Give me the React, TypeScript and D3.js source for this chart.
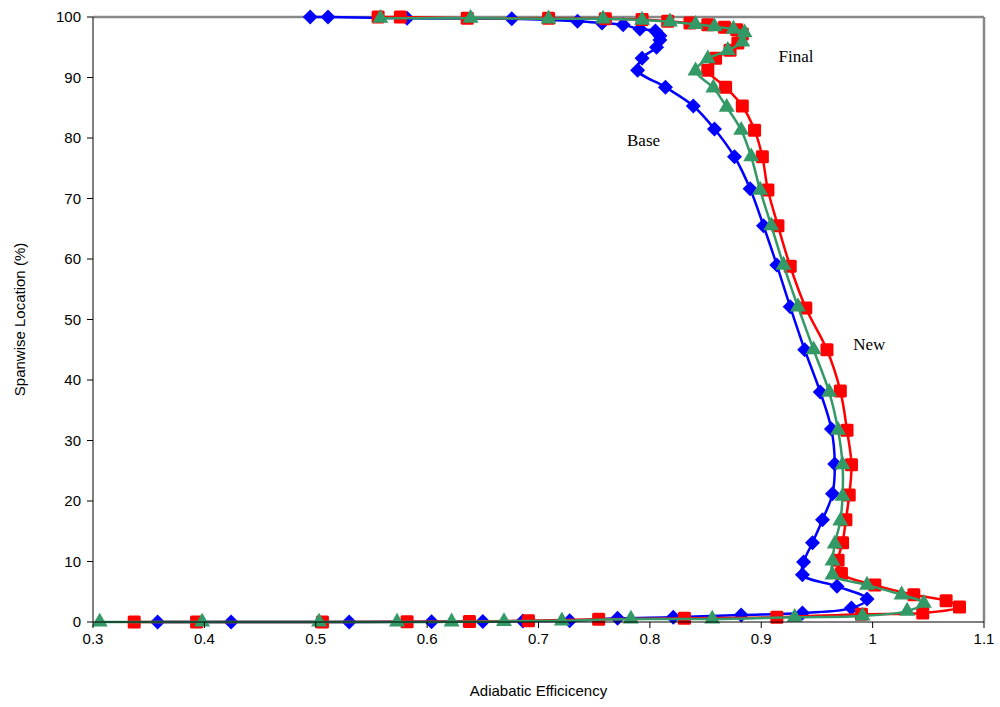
import React from "react";
import * as d3 from "d3";

const xTicks = [0.3, 0.4, 0.5, 0.6, 0.7, 0.8, 0.9, 1, 1.1];
const yTicks = [0, 10, 20, 30, 40, 50, 60, 70, 80, 90, 100];

// [efficiency, span%]
const baseSeries: [number, number][] = [
  [0.358, 0], [0.424, 0], [0.53, 0], [0.604, 0.05], [0.65, 0.08], [0.686, 0.15], [0.728, 0.2],
  [0.771, 0.6], [0.821, 0.8], [0.882, 1.15], [0.937, 1.5], [0.981, 2.3], [0.995, 3.8], [0.968, 5.9],
  [0.937, 7.8], [0.938, 9.9], [0.946, 13.1], [0.955, 16.9], [0.964, 21.2], [0.966, 26.1], [0.963, 31.9],
  [0.953, 38.0], [0.939, 45.0], [0.926, 52.1], [0.914, 59.0], [0.902, 65.5], [0.89, 71.6], [0.876, 76.9],
  [0.858, 81.5], [0.839, 85.3], [0.814, 88.4], [0.789, 91.2], [0.793, 93.2], [0.806, 95.0], [0.809, 96.2],
  [0.809, 96.9], [0.805, 97.7], [0.791, 98.0], [0.776, 98.7], [0.757, 99.0], [0.735, 99.3], [0.676, 99.7],
  [0.582, 99.8], [0.511, 100], [0.495, 100],
];

const newSeries: [number, number][] = [
  [0.337, 0], [0.393, 0], [0.506, 0.02], [0.582, 0.05], [0.638, 0.1], [0.691, 0.2], [0.754, 0.45],
  [0.831, 0.6], [0.914, 0.8], [0.99, 1.3], [1.045, 1.5], [1.078, 2.5], [1.066, 3.5], [1.037, 4.5],
  [1.002, 6.1], [0.972, 8.0], [0.969, 10.2], [0.973, 13.1], [0.976, 16.9], [0.979, 21.0], [0.981, 26.0],
  [0.977, 31.7], [0.971, 38.2], [0.959, 45.0], [0.94, 51.9], [0.926, 58.8], [0.915, 65.5], [0.906, 71.4],
  [0.901, 76.9], [0.894, 81.3], [0.883, 85.3], [0.868, 88.4], [0.852, 91.2], [0.859, 93.2], [0.872, 94.5],
  [0.879, 95.7], [0.883, 97.2], [0.878, 97.9], [0.867, 98.3], [0.852, 98.7], [0.836, 99.0], [0.816, 99.3],
  [0.793, 99.6], [0.76, 99.7], [0.709, 99.8], [0.636, 99.8], [0.576, 100], [0.556, 100],
];

const finalSeries: [number, number][] = [
  [0.306, 0], [0.398, 0], [0.503, 0], [0.573, 0], [0.622, 0.03], [0.669, 0.1], [0.721, 0.2],
  [0.783, 0.5], [0.856, 0.5], [0.93, 0.8], [0.991, 1.0], [1.031, 1.8], [1.046, 3.1], [1.026, 4.5],
  [0.995, 6.1], [0.964, 7.8], [0.964, 10.1], [0.966, 12.9], [0.971, 16.7], [0.973, 20.8], [0.973, 26.0],
  [0.969, 31.7], [0.961, 38.0], [0.947, 45.0], [0.933, 52.1], [0.92, 59.0], [0.909, 65.5], [0.899, 71.4],
  [0.891, 76.9], [0.882, 81.3], [0.869, 85.1], [0.857, 88.3], [0.841, 91.1], [0.852, 93.1], [0.87, 94.5],
  [0.883, 95.9], [0.885, 97.4], [0.875, 98.0], [0.858, 98.4], [0.841, 98.8], [0.818, 99.2], [0.793, 99.5],
  [0.758, 99.7], [0.709, 99.7], [0.639, 99.8], [0.558, 99.8],
];

const labels = [
  { text: "Final", x: 0.9155, y: 92.6 },
  { text: "Base", x: 0.7795, y: 78.7 },
  { text: "New", x: 0.9825, y: 44.9 },
];

const W = 1000;
const H = 707;
const left = 93;
const right = 984;
const top = 17;
const bottom = 622;

export default function App() {
  const x = d3.scaleLinear().domain([0.3, 1.1]).range([left, right]);
  const y = d3.scaleLinear().domain([0, 100]).range([bottom, top]);
  const line = d3
    .line<[number, number]>()
    .x((d) => x(d[0]))
    .y((d) => y(d[1]))
    .curve(d3.curveCatmullRom.alpha(0.5));

  const diamond = (cx: number, cy: number, r: number) =>
    `M${cx},${cy - r}L${cx + r},${cy}L${cx},${cy + r}L${cx - r},${cy}Z`;
  const tri = (cx: number, cy: number, s: number) => {
    const h = (s * Math.sqrt(3)) / 2;
    return `M${cx},${cy - (2 * h) / 3}L${cx + s / 2},${cy + h / 3}L${cx - s / 2},${cy + h / 3}Z`;
  };

  const font = "Liberation Sans, Arial, sans-serif";
  const sq = 13;

  return (
    <svg
      width={W}
      height={H}
      style={{ position: "absolute", left: 0, top: 0, background: "#fff" }}
      xmlns="http://www.w3.org/2000/svg"
    >
      <rect x={0} y={0} width={W} height={H} fill="#fff" />
      {/* frame top/right gray */}
      <line x1={left} x2={right} y1={top} y2={top} stroke="#888" strokeWidth={2.5} />
      <line x1={right} x2={right} y1={top} y2={bottom} stroke="#888" strokeWidth={2.5} />

      {/* series: base */}
      <path d={line(baseSeries) || ""} fill="none" stroke="#0000FF" strokeWidth={2.5} />
      {baseSeries.map((d, i) => (
        <path key={"b" + i} d={diamond(x(d[0]), y(d[1]), 7.5)} fill="#0000FF" />
      ))}
      {/* series: new (red) */}
      <path d={line(newSeries) || ""} fill="none" stroke="#FF0000" strokeWidth={2.5} />
      {newSeries.map((d, i) => (
        <rect
          key={"r" + i}
          x={x(d[0]) - sq / 2}
          y={y(d[1]) - sq / 2}
          width={sq}
          height={sq}
          rx={1.5}
          fill="#FF0000"
        />
      ))}
      {/* series: final (green) */}
      <path d={line(finalSeries) || ""} fill="none" stroke="#339966" strokeWidth={2.5} />
      {finalSeries.map((d, i) => (
        <path key={"g" + i} d={tri(x(d[0]), y(d[1]), 16)} fill="#339966" />
      ))}

      {/* axes */}
      <line x1={left} x2={left} y1={top} y2={bottom} stroke="#000" strokeWidth={1} />
      <line x1={left} x2={right} y1={bottom} y2={bottom} stroke="#000" strokeWidth={1} />
      {xTicks.map((t) => (
        <g key={"xt" + t}>
          <line x1={x(t)} x2={x(t)} y1={bottom} y2={bottom + 6} stroke="#000" />
          <text x={x(t)} y={bottom + 22} textAnchor="middle" fontFamily={font} fontSize={15}>
            {String(t)}
          </text>
        </g>
      ))}
      {yTicks.map((t) => (
        <g key={"yt" + t}>
          <line x1={left - 6} x2={left} y1={y(t)} y2={y(t)} stroke="#000" />
          <text x={left - 12} y={y(t) + 5} textAnchor="end" fontFamily={font} fontSize={15}>
            {String(t)}
          </text>
        </g>
      ))}

      <text x={(left + right) / 2} y={696} textAnchor="middle" fontFamily={font} fontSize={15}>
        Adiabatic Efficicency
      </text>
      <text
        transform={`translate(25,${(top + bottom) / 2}) rotate(-90)`}
        textAnchor="middle"
        fontFamily={font}
        fontSize={15}
      >
        Spanwise Location (%)
      </text>

      {labels.map((l) => (
        <text
          key={l.text}
          x={x(l.x)}
          y={y(l.y)}
          fontFamily="Liberation Serif, Times New Roman, serif"
          fontSize={17}
        >
          {l.text}
        </text>
      ))}
    </svg>
  );
}
